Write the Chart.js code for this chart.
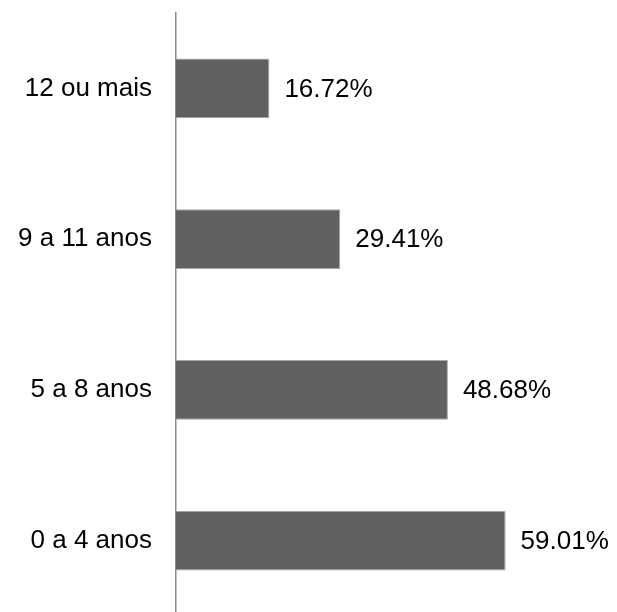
<!DOCTYPE html>
<html>
<head>
<meta charset="utf-8">
<script src="https://cdn.jsdelivr.net/npm/chart.js@4"></script>
<style>
  html, body { margin: 0; padding: 0; background: #fff; overflow: hidden; }
  #wrap { position: relative; width: 617px; height: 620px; }
</style>
</head>
<body>
<div id="wrap"><canvas id="c"></canvas></div>
<script>
const categories = ['12 ou mais', '9 a 11 anos', '5 a 8 anos', '0 a 4 anos'];
const values = [16.72, 29.41, 48.68, 59.01];
const valueLabels = ['16.72%', '29.41%', '48.68%', '59.01%'];

const FONT = '"Liberation Sans", Arial, sans-serif';

const valueLabelPlugin = {
  id: 'valueLabels',
  afterDatasetsDraw(chart) {
    const ctx = chart.ctx;
    const meta = chart.getDatasetMeta(0);
    ctx.save();
    ctx.font = '26px ' + FONT;
    ctx.fillStyle = '#000';
    ctx.textAlign = 'left';
    ctx.textBaseline = 'middle';
    meta.data.forEach((bar, i) => {
      ctx.fillText(valueLabels[i], bar.x + 15, bar.y + 1);
    });
    ctx.restore();
  }
};

new Chart(document.getElementById('c'), {
  type: 'bar',
  data: {
    labels: categories,
    datasets: [{
      data: values,
      backgroundColor: '#606060',
      borderColor: '#a8a8a8',
      borderWidth: 1,
      borderSkipped: 'left',
      categoryPercentage: 1,
      barPercentage: 0.398
    }]
  },
  options: {
    indexAxis: 'y',
    responsive: true,
    maintainAspectRatio: false,
    animation: false,
    layout: { padding: { top: 13, right: 50, bottom: 4, left: 0 } },
    plugins: {
      legend: { display: false },
      tooltip: { enabled: false }
    },
    scales: {
      x: {
        display: false,
        min: 0,
        max: 70
      },
      y: {
        grid: { display: false, drawTicks: false },
        border: { display: true, color: '#8a8a8a', width: 1.5 },
        ticks: {
          color: '#000',
          padding: 24,
          font: { family: FONT, size: 26 }
        },
        afterFit(scale) {
          scale.width = 176;
          scale.paddingTop = 0;
          scale.paddingBottom = 0;
        }
      }
    }
  },
  plugins: [valueLabelPlugin]
});
</script>
</body>
</html>
